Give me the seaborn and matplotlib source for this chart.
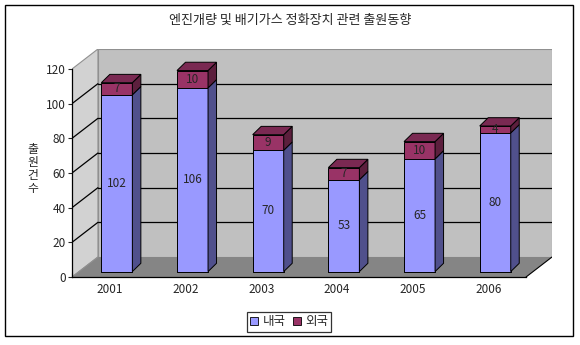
import matplotlib
matplotlib.use("Agg")
import matplotlib.pyplot as plt
from matplotlib.patches import Polygon, Rectangle
from matplotlib.lines import Line2D
import seaborn as sns

# ---- data ----
years = ["2001", "2002", "2003", "2004", "2005", "2006"]
domestic = [102, 106, 70, 53, 65, 80]
foreign = [7, 10, 9, 7, 10, 4]
y_ticks = [0, 20, 40, 60, 80, 100, 120]
series_names = ["내국", "외국"]
title = "엔진개량 및 배기가스 정화장치 관련 출원동향"
ylabel = "출원건수"

# ---- style ----
sns.set_style("white")
plt.rcParams['font.family'] = ['Noto Sans CJK KR', 'DejaVu Sans']

BLUE, BLUE_SIDE = "#9999FF", "#50508C"
PURP, PURP_TOP, PURP_SIDE = "#993366", "#7A2952", "#5C1F3D"
BACK, LEFTW, FLOOR = "#C0C0C0", "#D2D2D2", "#858585"

fig = plt.figure(figsize=(5.8, 3.45), dpi=100)
W, H = 580, 345
ymax = y_ticks[-1]
ncat = len(years)
# depth of the 3D box (in data units)
dxd = 26 / (455 / ncat)
dyd = 20 / (208 / ymax)
ax = fig.add_axes([72 / W, (H - 277) / H, 480 / W, 228 / H])

totals = [d + f for d, f in zip(domestic, foreign)]
sns.barplot(x=years, y=totals, color=PURP, saturation=1, width=0.41,
            edgecolor="black", linewidth=0.7, ax=ax, zorder=3)
n0 = len(ax.patches)
sns.barplot(x=years, y=domestic, color=BLUE, saturation=1, width=0.41,
            edgecolor="black", linewidth=0.7, ax=ax, zorder=3)
purple_p = ax.patches[:n0]
blue_p = ax.patches[n0:]

ax.set_xlim(-0.5, ncat - 0.5 + dxd)
ax.set_ylim(0, ymax + dyd)

# walls and floor
xl, xr = -0.5, ncat - 0.5
ax.add_patch(Polygon([(xl + dxd, dyd), (xr + dxd, dyd), (xr + dxd, ymax + dyd), (xl + dxd, ymax + dyd)],
                     closed=True, facecolor=BACK, edgecolor="#909090", lw=0.8, zorder=0.5))
ax.add_patch(Polygon([(xl, 0), (xl + dxd, dyd), (xl + dxd, ymax + dyd), (xl, ymax)],
                     closed=True, facecolor=LEFTW, edgecolor="#909090", lw=0.8, zorder=0.5))
ax.add_patch(Polygon([(xl, 0), (xr, 0), (xr + dxd, dyd), (xl + dxd, dyd)],
                     closed=True, facecolor=FLOOR, edgecolor="none", lw=0, zorder=0.6))
ax.plot([xr, xr + dxd], [0, dyd], color="black", lw=0.8, zorder=0.7)
for v in y_ticks[1:-1]:
    ax.plot([xl + dxd, xr + dxd], [v + dyd, v + dyd], color="black", lw=0.9, zorder=0.8)
    ax.plot([xl, xl + dxd], [v, v + dyd], color="black", lw=0.9, zorder=0.8)
ax.plot([xl, xl + dxd], [0, dyd], color="#909090", lw=0.8, zorder=0.8)

# place bars mid-depth and add 3D faces
f = 0.27
offx, offy = f * dxd, f * dyd
bdx = 8.5 / (480 / (ncat + dxd))
bdy = 8.3 / (228 / (ymax + dyd))
for p in list(purple_p) + list(blue_p):
    p.set_x(p.get_x() + offx)
    p.set_y(p.get_y() + offy)

for pb, pp, d, fo in zip(blue_p, purple_p, domestic, foreign):
    x, w, y0 = pb.get_x(), pb.get_width(), pb.get_y()
    hb, hp = pb.get_height(), pp.get_height()
    ax.add_patch(Polygon([(x + w, y0), (x + w + bdx, y0 + bdy), (x + w + bdx, y0 + hb + bdy), (x + w, y0 + hb)],
                         closed=True, facecolor=BLUE_SIDE, edgecolor="black", lw=0.7, zorder=3))
    ax.add_patch(Polygon([(x + w, y0 + hb), (x + w + bdx, y0 + hb + bdy), (x + w + bdx, y0 + hp + bdy), (x + w, y0 + hp)],
                         closed=True, facecolor=PURP_SIDE, edgecolor="black", lw=0.7, zorder=3))
    ax.add_patch(Polygon([(x, y0 + hp), (x + bdx, y0 + hp + bdy), (x + w + bdx, y0 + hp + bdy), (x + w, y0 + hp)],
                         closed=True, facecolor=PURP_TOP, edgecolor="black", lw=0.7, zorder=3))
    ax.text(x + w / 2, y0 + hb / 2, str(d), ha="center", va="center", fontsize=8.5, zorder=4)
    ax.text(x + w / 2, y0 + hb + fo / 2, str(fo), ha="center", va="center", fontsize=8.5, zorder=4)

# axes lines / ticks
for s in ["top", "right"]:
    ax.spines[s].set_visible(False)
ax.spines["left"].set_bounds(0, ymax)
ax.spines["bottom"].set_bounds(xl, xr)
for s in ["left", "bottom"]:
    ax.spines[s].set_color("black")
    ax.spines[s].set_linewidth(0.9)
    ax.spines[s].set_zorder(5)
ax.set_yticks(y_ticks)
ax.set_yticklabels([str(v) for v in y_ticks])
ax.tick_params(axis="y", direction="out", length=3, width=0.8, pad=1.5, labelsize=8.5, left=True)
ax.set_xticks(range(ncat))
ax.set_xticklabels(years)
ax.tick_params(axis="x", length=0, pad=4, labelsize=8.5)
ax.set_xticks([i - 0.5 for i in range(ncat + 1)], minor=True)
ax.tick_params(axis="x", which="minor", direction="in", length=3, width=0.8, bottom=True)
ax.set_xlabel("")
ax.set_ylabel("")
ax.grid(False)

# vertical (stacked) y label, one character per line
for i, ch in enumerate(ylabel):
    fig.text(33 / W, 1 - (150 + 12.7 * i) / H, ch, ha="center", va="center", fontsize=8.5)
fig.text(290 / W, 1 - 20 / H, title, ha="center", va="center", fontsize=9.4)

handles = [Line2D([], [], marker="s", linestyle="none", markerfacecolor=c, markeredgecolor="black",
                  markeredgewidth=0.6, markersize=6) for c in (BLUE, PURP)]
leg = fig.legend(handles, series_names, loc="center", bbox_to_anchor=(289 / W, 1 - 322 / H), ncol=2,
                 frameon=True, fancybox=False, edgecolor="black", fontsize=9, handlelength=0.7,
                 handletextpad=0.35, columnspacing=0.5, borderpad=0.25, borderaxespad=0)
leg.get_frame().set_linewidth(0.9)

fig.patches.append(Rectangle((5 / W, (H - 336) / H), 568 / W, 331 / H, transform=fig.transFigure,
                             fill=False, edgecolor="black", lw=1))

fig.savefig("out.png", dpi=100, facecolor="white")
